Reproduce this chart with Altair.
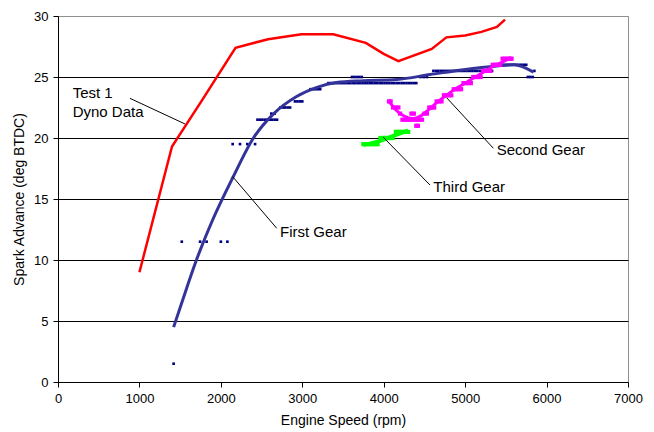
import altair as alt
import pandas as pd

# ---- Test 1 dyno data (red line)
dyno_rpm = [1000, 1400, 1770, 2180, 2580, 2990, 3380, 3780, 4000, 4180, 4590, 4770, 5000, 5200, 5390, 5490]
dyno_deg = [9.0, 19.3, 23.1, 27.4, 28.1, 28.5, 28.5, 27.8, 26.9, 26.3, 27.3, 28.25, 28.4, 28.7, 29.1, 29.7]

# ---- First gear trend line
fit1_rpm = [1420, 1520, 1700, 1900, 2150, 2400, 2650, 2930, 3180, 3420, 3750, 4160, 4570, 4980, 5390, 5600, 5840]
fit1_deg = [4.5, 6.5, 10.0, 13.3, 16.8, 20.0, 22.0, 23.4, 24.15, 24.55, 24.7, 24.8, 25.2, 25.6, 25.9, 26.0, 25.4]

# ---- First gear data points
pts1_rpm = [1420,
            1520, 1745, 1825, 2000, 2080,
            2145, 2235, 2325, 2420,
            2450, 2480, 2510, 2540, 2570, 2600, 2630, 2660, 2690,
            2620, 2660,
            2730, 2760, 2790, 2820, 2850,
            2910, 2940, 2970, 3000,
            3100, 3130, 3160, 3190, 3220,
            3320, 3350, 3380, 3410, 3440, 3470, 3500, 3530, 3560, 3590, 3620, 3650,
            3680, 3710, 3740, 3770, 3800, 3830, 3860, 3890, 3920, 3950, 3980, 4010,
            4040, 4070, 4100, 4130, 4160, 4190, 4220, 4250, 4280, 4310, 4340, 4370, 4400,
            3610, 3640, 3670, 3700, 3730,
            4450, 4490, 4530,
            4610, 4640, 4670, 4700, 4730, 4760, 4790, 4820, 4850, 4880, 4910, 4940, 4970,
            5000, 5030, 5060, 5090, 5120, 5150, 5180, 5210, 5240, 5270, 5300, 5330,
            5390, 5420, 5450, 5480, 5510, 5540, 5570, 5600, 5630, 5660, 5690, 5720, 5750,
            5770, 5800, 5830,
            5850]
pts1_deg = [1.5,
            11.5, 11.5, 11.5, 11.5, 11.5,
            19.5, 19.5, 19.5, 19.5,
            21.5, 21.5, 21.5, 21.5, 21.5, 21.5, 21.5, 21.5, 21.5,
            22.0, 22.0,
            22.5, 22.5, 22.5, 22.5, 22.5,
            23.0, 23.0, 23.0, 23.0,
            24.0, 24.0, 24.0, 24.0, 24.0,
            24.5, 24.5, 24.5, 24.5, 24.5, 24.5, 24.5, 24.5, 24.5, 24.5, 24.5, 24.5,
            24.5, 24.5, 24.5, 24.5, 24.5, 24.5, 24.5, 24.5, 24.5, 24.5, 24.5, 24.5,
            24.5, 24.5, 24.5, 24.5, 24.5, 24.5, 24.5, 24.5, 24.5, 24.5, 24.5, 24.5, 24.5,
            25.0, 25.0, 25.0, 25.0, 25.0,
            25.0, 25.0, 25.0,
            25.5, 25.5, 25.5, 25.5, 25.5, 25.5, 25.5, 25.5, 25.5, 25.5, 25.5, 25.5, 25.5,
            25.5, 25.5, 25.5, 25.5, 25.5, 25.5, 25.5, 25.5, 25.5, 25.5, 25.5, 25.5,
            26.0, 26.0, 26.0, 26.0, 26.0, 26.0, 26.0, 26.0, 26.0, 26.0, 26.0, 26.0, 26.0,
            25.0, 25.0, 25.0,
            25.5]

# ---- Second gear
fit2_rpm = [4065, 4150, 4250, 4360, 4450, 4550, 4650, 4750, 4850, 4950, 5050, 5150, 5250, 5350, 5450, 5560]
fit2_deg = [23.0, 22.3, 21.8, 21.6, 21.8, 22.3, 22.9, 23.4, 23.9, 24.3, 24.7, 25.1, 25.5, 25.9, 26.2, 26.6]
pts2_rpm = [4065, 4085, 4115, 4145, 4180, 4200,
            4230, 4260, 4290, 4320, 4350, 4380, 4410, 4440, 4470,
            4340, 4370, 4400, 4420, 4500, 4530,
            4560, 4590, 4620, 4650, 4680, 4710, 4740, 4770, 4800, 4830,
            4860, 4890, 4920, 4950, 4980, 5010, 5040, 5070,
            5100, 5130, 5160, 5190, 5220, 5250, 5280, 5310,
            5340, 5370, 5400, 5430, 5460, 5490, 5520, 5550, 5570]
pts2_deg = [23.0, 23.0, 22.5, 22.5, 22.5, 22.0,
            21.5, 21.5, 21.5, 21.5, 21.5, 21.5, 21.5, 21.5, 21.5,
            22.0, 22.0, 21.0, 21.0, 22.0, 22.0,
            22.5, 22.5, 22.5, 23.0, 23.0, 23.0, 23.5, 23.5, 23.5, 23.5,
            24.0, 24.0, 24.0, 24.0, 24.5, 24.5, 24.5, 24.5,
            25.0, 25.0, 25.0, 25.0, 25.5, 25.5, 25.5, 25.5,
            26.0, 26.0, 26.0, 26.0, 26.5, 26.5, 26.5, 26.5, 26.5]

# ---- Third gear
fit3_rpm = [3750, 3950, 4150, 4300]
fit3_deg = [19.45, 19.75, 20.25, 20.6]
pts3_rpm = [3750, 3775, 3800, 3825, 3850, 3875, 3900, 3925,
            3960, 3990, 4020, 4050, 4080, 4110,
            4150, 4180, 4210, 4240, 4270, 4300]
pts3_deg = [19.5, 19.5, 19.5, 19.5, 19.5, 19.5, 19.5, 19.5,
            20.0, 20.0, 20.0, 20.0, 20.0, 20.0,
            20.5, 20.5, 20.5, 20.5, 20.5, 20.5]

# ---- Annotations
label_text = ["Test 1", "Dyno Data", "First Gear", "Second Gear", "Third Gear"]
label_rpm = [180, 180, 2726, 5387, 4609]
label_deg = [23.25, 21.75, 11.9, 18.6, 15.6]
lead_rpm = [884, 2145, 4773, 3995]
lead_deg = [23.25, 16.83, 23.3, 20.06]
lead_rpm2 = [1560, 2686, 5346, 4568]
lead_deg2 = [21.15, 12.6, 19.16, 16.15]

FONT = "Liberation Sans"

xs = alt.Scale(domain=[0, 7000], nice=False)
ys = alt.Scale(domain=[0, 30], nice=False)

x_axis = alt.Axis(values=[0, 1000, 2000, 3000, 4000, 5000, 6000, 7000], grid=False, format="d",
                  title="Engine Speed (rpm)", labelFont=FONT, titleFont=FONT,
                  labelFontSize=13, titleFontSize=14, titleFontWeight="normal",
                  labelColor="#000", titleColor="#000", domainColor="#000", tickColor="#000",
                  tickSize=5, labelPadding=5, titlePadding=8, labelFlush=False)
y_axis = alt.Axis(values=[0, 5, 10, 15, 20, 25, 30], grid=True,
                  gridColor={"condition": {"test": "datum.value == 30", "value": "#909090"}, "value": "#000000"},
                  gridWidth=1,
                  title="Spark Advance (deg BTDC)", labelFont=FONT, titleFont=FONT,
                  labelFontSize=13, titleFontSize=14, titleFontWeight="normal",
                  labelColor="#000", titleColor="#000", domainColor="#000", tickColor="#000",
                  tickSize=5, labelPadding=5, titlePadding=7)

def line_df(r, d):
    return pd.DataFrame({"rpm": r, "deg": d})

X = alt.X("rpm:Q", scale=xs, axis=x_axis)
Y = alt.Y("deg:Q", scale=ys, axis=y_axis)
Xn = alt.X("rpm:Q", scale=xs)
Yn = alt.Y("deg:Q", scale=ys)

base_axes = alt.Chart(line_df(dyno_rpm, dyno_deg)).mark_line(
    color="#FF0000", strokeWidth=2.5).encode(x=X, y=Y)

blue_pts = alt.Chart(line_df(pts1_rpm, pts1_deg)).mark_square(
    color="#000080", size=7, opacity=1).encode(x=Xn, y=Yn)
blue_fit = alt.Chart(line_df(fit1_rpm, fit1_deg)).mark_line(
    color="#333399", strokeWidth=3, interpolate="monotone").encode(x=Xn, y=Yn)

mag_pts = alt.Chart(line_df(pts2_rpm, pts2_deg)).mark_square(
    color="#FF00FF", size=18, opacity=1).encode(x=Xn, y=Yn)
mag_fit = alt.Chart(line_df(fit2_rpm, fit2_deg)).mark_line(
    color="#FF00FF", strokeWidth=3, interpolate="monotone").encode(x=Xn, y=Yn)

grn_pts = alt.Chart(line_df(pts3_rpm, pts3_deg)).mark_square(
    color="#00FF00", size=18, opacity=1).encode(x=Xn, y=Yn)
grn_fit = alt.Chart(line_df(fit3_rpm, fit3_deg)).mark_line(
    color="#00FF00", strokeWidth=4, interpolate="monotone").encode(x=Xn, y=Yn)

leaders = alt.Chart(pd.DataFrame({"rpm": lead_rpm, "deg": lead_deg,
                                  "rpm2": lead_rpm2, "deg2": lead_deg2})).mark_rule(
    color="#000", strokeWidth=1).encode(x=Xn, y=Yn, x2="rpm2:Q", y2="deg2:Q")

labels = alt.Chart(pd.DataFrame({"rpm": label_rpm, "deg": label_deg, "t": label_text})).mark_text(
    align="left", baseline="alphabetic", font=FONT, fontSize=15, color="#000").encode(
    x=Xn, y=Yn, text="t:N")

chart = alt.layer(base_axes, blue_pts, blue_fit, mag_pts, mag_fit, grn_pts, grn_fit,
                  leaders, labels).properties(
    width=570, height=366,
    autosize=alt.AutoSizeParams(type="none"),
    padding={"left": 50, "top": 8, "right": 16, "bottom": 50},
    background="white",
).configure_view(stroke="#909090", strokeWidth=1)

chart.save("out.html", embed_options={"renderer": "svg", "actions": False})
